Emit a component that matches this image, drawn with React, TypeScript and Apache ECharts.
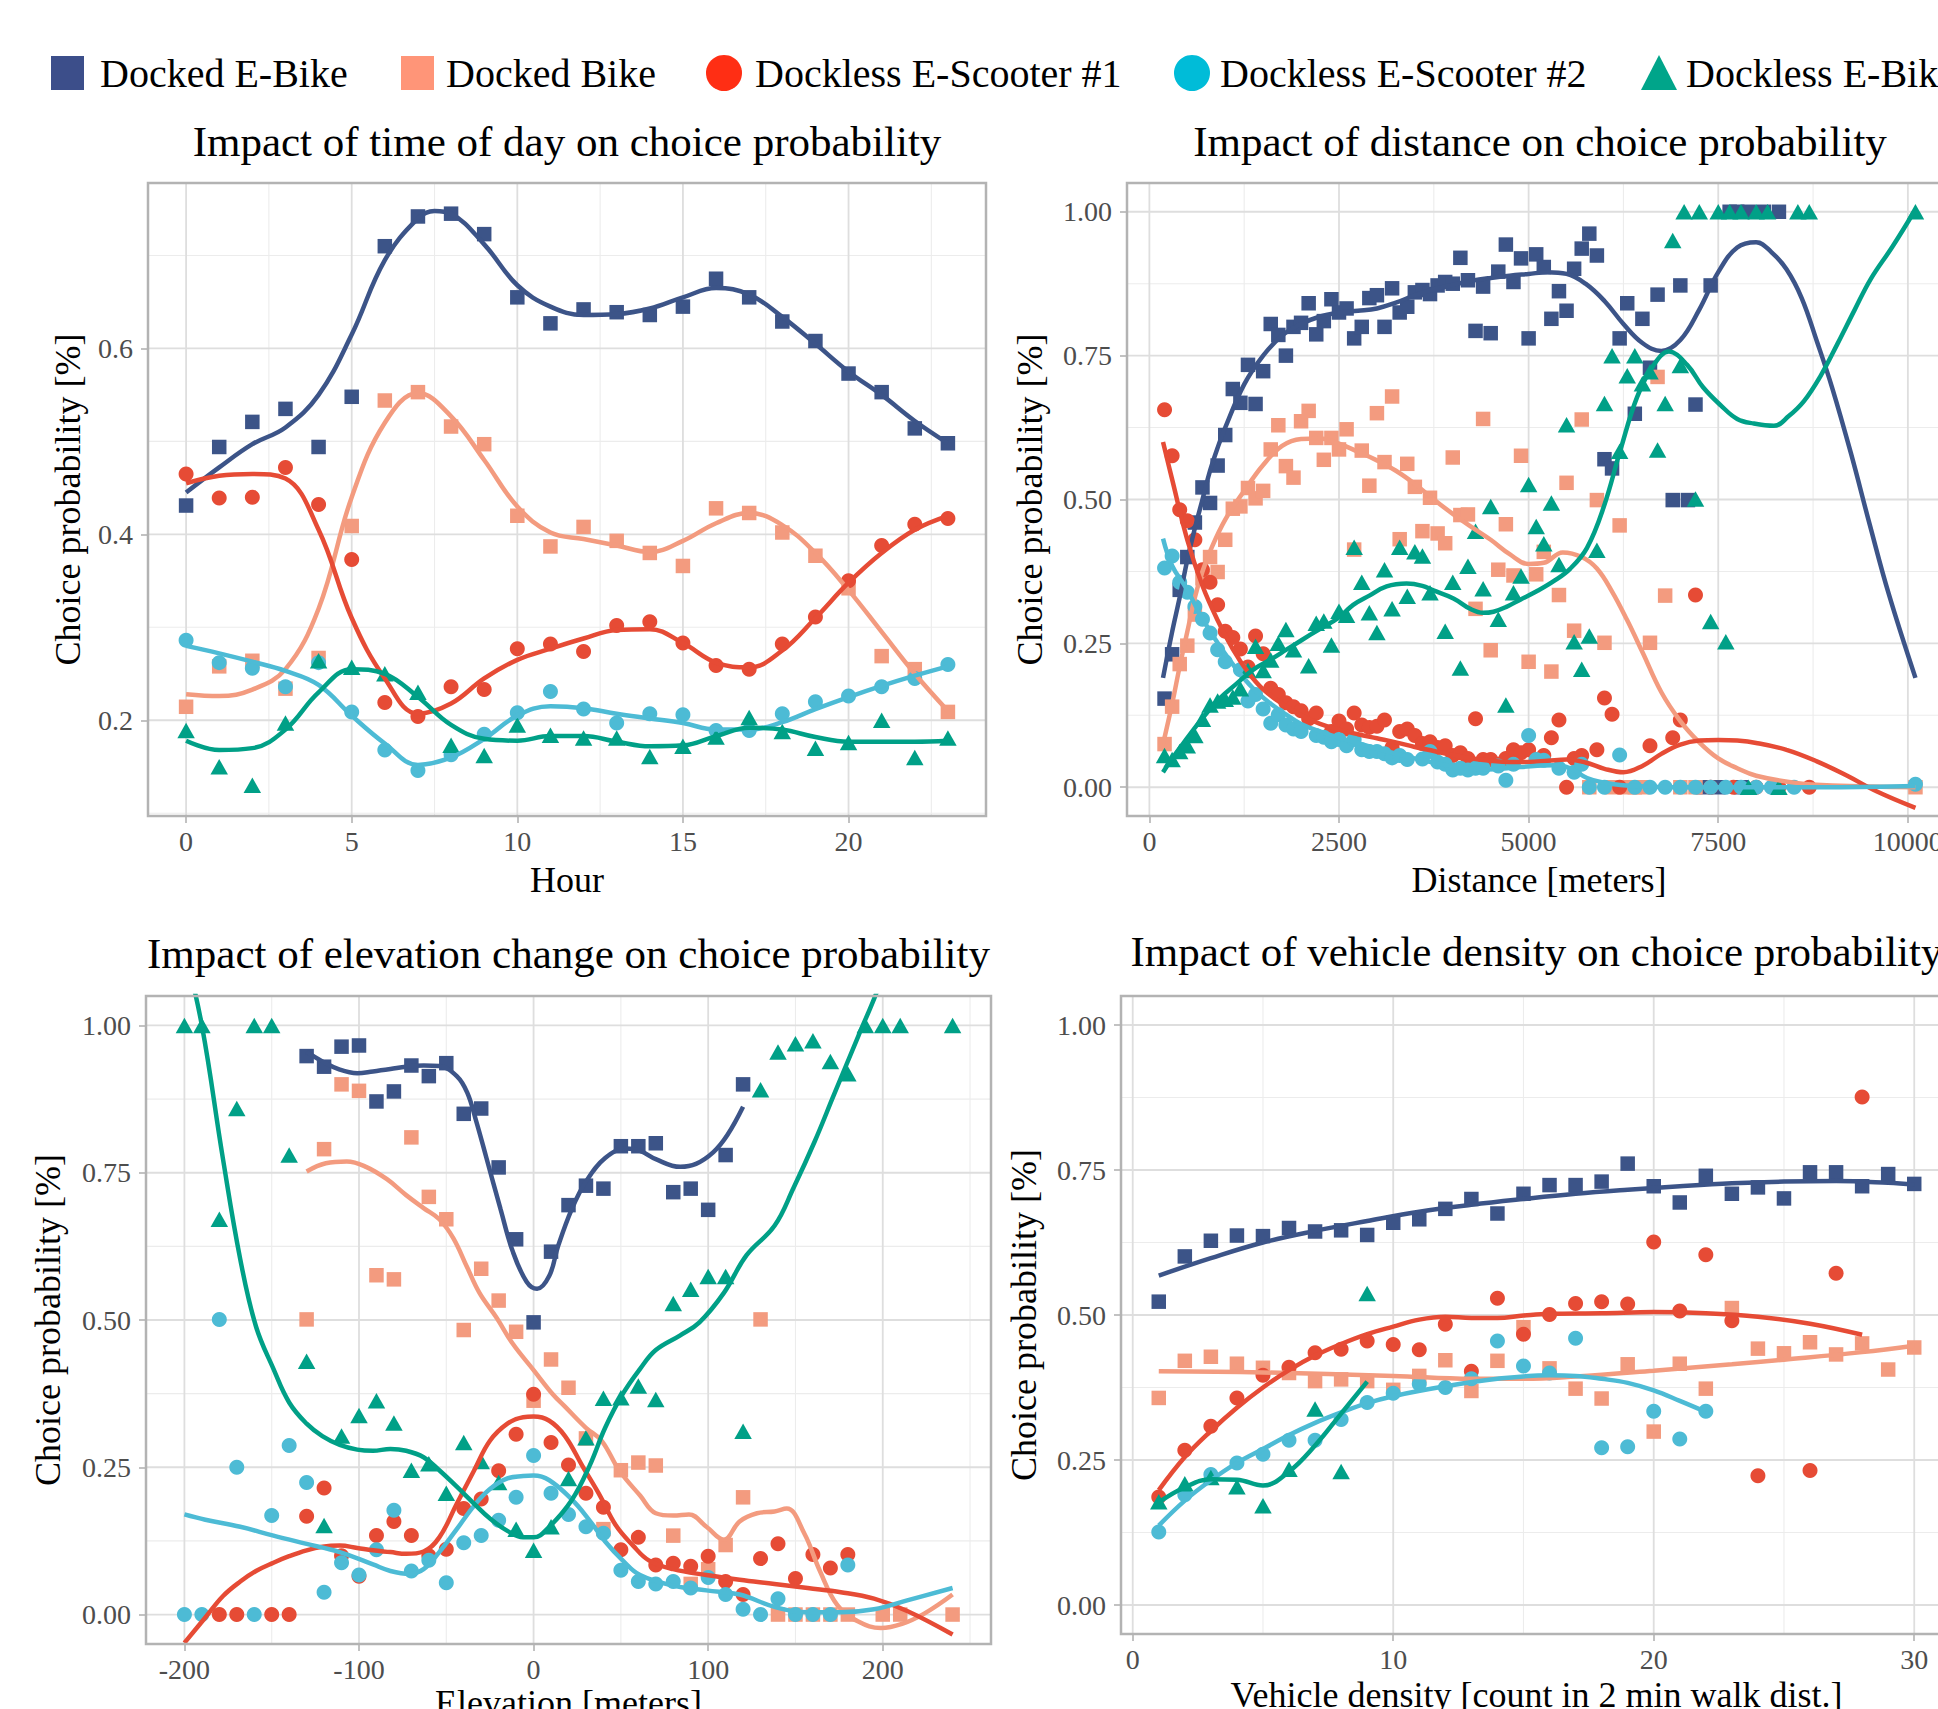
import React, { useEffect, useRef } from "react";
import * as echarts from "echarts";

// ---------- series identity ----------
const GROUPS = ["Docked E-Bike", "Docked Bike", "Dockless E-Scooter #1", "Dockless E-Scooter #2", "Dockless E-Bike"];
const COLORS = ["#3C5488", "#F39B7F", "#E64B35", "#4DBBD5", "#00A087"];
const LEGEND_COLORS = ["#3C4E8A", "#FF9578", "#FF2E14", "#00BCD8", "#00A58A"];

// ---------- panel 1 : hour ----------
const P1_HOURS = [0, 1, 2, 3, 4, 5, 6, 7, 8, 9, 10, 11, 12, 13, 14, 15, 16, 17, 18, 19, 20, 21, 22, 23];
const P1_NAVY = [0.431, 0.494, 0.521, 0.535, 0.494, 0.548, 0.71, 0.742, 0.745, 0.723, 0.655, 0.627, 0.642, 0.639, 0.636, 0.645, 0.675, 0.655, 0.629, 0.608, 0.573, 0.553, 0.514, 0.498];
const P1_SALMON = [0.2145, 0.258, 0.264, 0.234, 0.267, 0.409, 0.544, 0.553, 0.516, 0.497, 0.42, 0.387, 0.408, 0.393, 0.38, 0.366, 0.428, 0.423, 0.402, 0.377, 0.342, 0.269, 0.255, 0.209];
const P1_RED = [0.465, 0.439, 0.44, 0.472, 0.432, 0.373, 0.219, 0.204, 0.236, 0.233, 0.277, 0.282, 0.274, 0.302, 0.306, 0.283, 0.259, 0.255, 0.282, 0.311, 0.35, 0.388, 0.411, 0.417];
const P1_CYAN = [0.286, 0.262, 0.256, 0.236, 0.262, 0.209, 0.168, 0.146, 0.163, 0.185, 0.208, 0.231, 0.212, 0.197, 0.207, 0.206, 0.189, 0.189, 0.207, 0.22, 0.226, 0.236, 0.245, 0.26];
const P1_GREEN = [0.189, 0.15, 0.13, 0.197, 0.264, 0.257, 0.25, 0.23, 0.173, 0.162, 0.195, 0.184, 0.181, 0.181, 0.161, 0.172, 0.182, 0.203, 0.188, 0.17, 0.176, 0.2, 0.16, 0.181];

const P1_NAVY_FIT = [[0, 0.445], [1, 0.472], [2, 0.497], [3, 0.515], [4, 0.55], [5, 0.615], [6, 0.695], [7, 0.74], [7.5, 0.748], [8, 0.745], [9, 0.712], [10, 0.668], [11, 0.645], [12, 0.636], [13, 0.637], [14, 0.643], [15, 0.655], [16, 0.665], [17, 0.658], [18, 0.634], [19, 0.605], [20, 0.575], [21, 0.55], [22, 0.522], [23, 0.498]];
const P1_SALMON_FIT = [[0, 0.228], [1, 0.226], [2, 0.233], [3, 0.255], [4, 0.32], [5, 0.44], [6, 0.52], [7, 0.552], [8, 0.527], [9, 0.48], [10, 0.43], [11, 0.402], [12, 0.395], [13, 0.388], [14, 0.381], [15, 0.393], [16, 0.412], [17, 0.423], [18, 0.41], [19, 0.38], [20, 0.34], [21, 0.295], [22, 0.25], [23, 0.21]];
const P1_RED_FIT = [[0, 0.455], [1, 0.463], [2, 0.465], [3, 0.46], [4, 0.405], [5, 0.31], [6, 0.245], [7, 0.207], [8, 0.218], [9, 0.245], [10, 0.265], [11, 0.277], [12, 0.288], [13, 0.297], [14, 0.298], [15, 0.283], [16, 0.262], [17, 0.257], [18, 0.275], [19, 0.31], [20, 0.348], [21, 0.38], [22, 0.405], [23, 0.42]];
const P1_CYAN_FIT = [[0, 0.28], [1, 0.272], [2, 0.263], [3, 0.253], [4, 0.238], [5, 0.205], [6, 0.175], [7, 0.152], [8, 0.16], [9, 0.18], [10, 0.205], [11, 0.215], [12, 0.213], [13, 0.207], [14, 0.202], [15, 0.197], [16, 0.19], [17, 0.19], [18, 0.198], [19, 0.212], [20, 0.225], [21, 0.237], [22, 0.248], [23, 0.258]];
const P1_GREEN_FIT = [[0, 0.178], [1, 0.168], [2, 0.17], [3, 0.19], [4, 0.23], [5, 0.255], [6, 0.25], [7, 0.225], [8, 0.195], [9, 0.18], [10, 0.178], [11, 0.183], [12, 0.183], [13, 0.177], [14, 0.172], [15, 0.173], [16, 0.183], [17, 0.192], [18, 0.19], [19, 0.182], [20, 0.177], [21, 0.177], [22, 0.177], [23, 0.178]];

// ---------- panel 2 : distance ----------
const P2_NAVY = [[200, 0.154], [300, 0.231], [400, 0.343], [500, 0.4], [600, 0.46], [700, 0.521], [800, 0.494], [900, 0.559], [1000, 0.612], [1100, 0.692], [1200, 0.668], [1300, 0.734], [1400, 0.666], [1500, 0.723], [1600, 0.805], [1700, 0.786], [1800, 0.75], [1900, 0.8], [2000, 0.807], [2100, 0.841], [2200, 0.787], [2300, 0.81], [2400, 0.848], [2500, 0.825], [2600, 0.832], [2700, 0.78], [2800, 0.8], [2900, 0.85], [3000, 0.855], [3100, 0.8], [3200, 0.867], [3300, 0.825], [3400, 0.835], [3500, 0.86], [3600, 0.864], [3700, 0.857], [3800, 0.872], [3900, 0.878], [4000, 0.875], [4100, 0.92], [4200, 0.881], [4300, 0.793], [4400, 0.87], [4500, 0.789], [4600, 0.896], [4700, 0.943], [4800, 0.878], [4900, 0.919], [5000, 0.78], [5100, 0.926], [5200, 0.904], [5300, 0.814], [5400, 0.862], [5500, 0.828], [5600, 0.901], [5700, 0.936], [5800, 0.962], [5900, 0.924], [6000, 0.57], [6100, 0.554], [6200, 0.78], [6300, 0.841], [6400, 0.649], [6500, 0.814], [6600, 0.729], [6700, 0.856], [6900, 0.499], [7000, 0.872], [7100, 0.499], [7200, 0.665], [7300, 0], [7400, 0.872], [7500, 0], [7650, 1], [7750, 1], [7800, 0], [7900, 1], [8100, 1], [8300, 1]];
const P2_SALMON = [[200, 0.075], [300, 0.14], [400, 0.214], [500, 0.246], [600, 0.3], [700, 0.363], [800, 0.4], [900, 0.374], [1000, 0.43], [1100, 0.484], [1200, 0.488], [1300, 0.52], [1400, 0.502], [1500, 0.515], [1600, 0.587], [1700, 0.629], [1800, 0.558], [1900, 0.538], [2000, 0.636], [2100, 0.654], [2200, 0.607], [2300, 0.569], [2400, 0.607], [2500, 0.587], [2600, 0.622], [2700, 0.413], [2800, 0.585], [2900, 0.524], [3000, 0.65], [3100, 0.565], [3200, 0.679], [3300, 0.431], [3400, 0.562], [3500, 0.522], [3600, 0.445], [3700, 0.503], [3800, 0.441], [3900, 0.424], [4000, 0.573], [4100, 0.473], [4200, 0.474], [4300, 0.31], [4400, 0.64], [4500, 0.238], [4600, 0.378], [4700, 0.457], [4800, 0.368], [4900, 0.576], [5000, 0.218], [5100, 0.37], [5200, 0.409], [5300, 0.201], [5400, 0.334], [5500, 0.529], [5600, 0.272], [5700, 0.639], [5800, 0], [5900, 0.499], [6000, 0.251], [6100, 0], [6200, 0.455], [6300, 0], [6400, 0], [6500, 0], [6600, 0.251], [6700, 0.713], [6800, 0.333], [7000, 0], [7200, 0], [10100, 0]];
const P2_RED = [[200, 0.656], [300, 0.576], [400, 0.482], [500, 0.463], [600, 0.43], [700, 0.378], [800, 0.356], [900, 0.317], [1000, 0.271], [1100, 0.26], [1200, 0.24], [1300, 0.209], [1400, 0.263], [1500, 0.232], [1600, 0.172], [1700, 0.161], [1800, 0.147], [1900, 0.14], [2000, 0.133], [2100, 0.119], [2200, 0.129], [2400, 0.097], [2500, 0.115], [2600, 0.101], [2700, 0.129], [2800, 0.108], [2900, 0.104], [3000, 0.106], [3100, 0.117], [3200, 0.069], [3300, 0.097], [3400, 0.101], [3500, 0.09], [3600, 0.076], [3700, 0.079], [3800, 0.069], [3900, 0.072], [4000, 0.055], [4100, 0.06], [4200, 0.05], [4300, 0.119], [4400, 0.048], [4500, 0.048], [4600, 0.04], [4700, 0.05], [4800, 0.065], [4900, 0.06], [5000, 0.065], [5100, 0.048], [5200, 0.055], [5300, 0.086], [5400, 0.117], [5500, 0], [5600, 0.05], [5700, 0.055], [5900, 0.065], [6000, 0.155], [6100, 0.127], [6200, 0], [6600, 0.072], [6900, 0.086], [7000, 0.117], [7200, 0.334], [7400, 0], [7700, 0], [8000, 0], [8300, 0], [8700, 0]];
const P2_CYAN = [[200, 0.381], [300, 0.402], [400, 0.356], [500, 0.339], [600, 0.314], [700, 0.292], [800, 0.268], [900, 0.239], [1000, 0.218], [1200, 0.204], [1300, 0.15], [1400, 0.161], [1500, 0.136], [1600, 0.111], [1700, 0.126], [1800, 0.108], [1900, 0.101], [2000, 0.097], [2200, 0.09], [2300, 0.087], [2400, 0.079], [2500, 0.083], [2600, 0.072], [2700, 0.083], [2800, 0.065], [2900, 0.062], [3000, 0.062], [3100, 0.058], [3200, 0.051], [3300, 0.055], [3400, 0.048], [3600, 0.049], [3700, 0.062], [3800, 0.044], [3900, 0.04], [4000, 0.03], [4100, 0.033], [4200, 0.03], [4300, 0.033], [4400, 0.033], [4600, 0.037], [4700, 0.012], [4800, 0.04], [5000, 0.09], [5100, 0.048], [5200, 0.047], [5400, 0.033], [5600, 0.026], [5700, 0.04], [5800, 0], [6000, 0], [6200, 0.056], [6400, 0], [6600, 0], [6800, 0], [7000, 0], [7200, 0], [7400, 0], [7600, 0], [7800, 0], [8000, 0], [8200, 0], [8500, 0], [10100, 0.005]];
const P2_GREEN = [[200, 0.055], [300, 0.048], [400, 0.062], [500, 0.072], [600, 0.09], [700, 0.118], [800, 0.143], [900, 0.15], [1000, 0.153], [1100, 0.157], [1200, 0.171], [1300, 0.203], [1400, 0.245], [1500, 0.203], [1600, 0.221], [1700, 0.25], [1800, 0.274], [1900, 0.239], [2100, 0.211], [2200, 0.285], [2300, 0.289], [2400, 0.247], [2500, 0.306], [2600, 0.299], [2700, 0.417], [2800, 0.356], [2900, 0.303], [3000, 0.269], [3100, 0.378], [3200, 0.31], [3300, 0.417], [3400, 0.332], [3500, 0.409], [3600, 0.402], [3700, 0.338], [3900, 0.271], [4000, 0.356], [4100, 0.207], [4200, 0.384], [4300, 0.445], [4400, 0.345], [4500, 0.488], [4600, 0.292], [4700, 0.143], [4800, 0.338], [4900, 0.367], [5000, 0.526], [5100, 0.453], [5200, 0.423], [5300, 0.494], [5400, 0.387], [5500, 0.63], [5600, 0.253], [5700, 0.205], [5800, 0.263], [5900, 0.412], [6000, 0.667], [6100, 0.75], [6200, 0.584], [6300, 0.715], [6400, 0.75], [6500, 0.701], [6600, 0.722], [6700, 0.586], [6800, 0.667], [6900, 0.95], [7000, 0.733], [7050, 1], [7200, 0.501], [7250, 1], [7400, 0.288], [7500, 1], [7600, 0.253], [7650, 1], [7800, 1], [7900, 0], [8000, 1], [8150, 1], [8300, 0], [8550, 1], [8700, 1], [10100, 1]];

const P2_NAVY_FIT = [[180, 0.19], [300, 0.27], [400, 0.33], [500, 0.395], [600, 0.45], [700, 0.5], [800, 0.55], [900, 0.59], [1000, 0.625], [1250, 0.7], [1500, 0.75], [1750, 0.785], [2000, 0.805], [2250, 0.818], [2500, 0.825], [2750, 0.828], [3000, 0.832], [3250, 0.842], [3500, 0.855], [3750, 0.865], [4000, 0.873], [4250, 0.88], [4500, 0.885], [4750, 0.889], [5000, 0.892], [5250, 0.895], [5500, 0.892], [5750, 0.875], [6000, 0.845], [6250, 0.805], [6500, 0.772], [6750, 0.758], [7000, 0.777], [7250, 0.83], [7500, 0.895], [7750, 0.938], [8000, 0.947], [8200, 0.93], [8400, 0.9], [8600, 0.85], [8800, 0.775], [9000, 0.695], [9250, 0.58], [9500, 0.455], [9750, 0.335], [10100, 0.19]];
const P2_SALMON_FIT = [[180, 0.075], [300, 0.145], [400, 0.21], [500, 0.27], [600, 0.33], [700, 0.375], [800, 0.41], [1000, 0.465], [1250, 0.515], [1500, 0.56], [1750, 0.593], [2000, 0.605], [2250, 0.606], [2500, 0.597], [2750, 0.583], [3000, 0.568], [3250, 0.55], [3500, 0.527], [3750, 0.5], [4000, 0.475], [4250, 0.452], [4500, 0.43], [4750, 0.405], [5000, 0.388], [5200, 0.39], [5450, 0.408], [5700, 0.4], [5900, 0.38], [6100, 0.34], [6300, 0.29], [6500, 0.235], [6750, 0.165], [7000, 0.115], [7250, 0.078], [7500, 0.05], [7750, 0.033], [8000, 0.02], [8500, 0.008], [9000, 0.003], [10100, 0]];
const P2_RED_FIT = [[180, 0.6], [300, 0.535], [500, 0.43], [700, 0.35], [900, 0.29], [1100, 0.24], [1300, 0.2], [1500, 0.17], [1750, 0.145], [2000, 0.125], [2250, 0.11], [2500, 0.1], [2750, 0.092], [3000, 0.085], [3250, 0.078], [3500, 0.07], [3750, 0.063], [4000, 0.056], [4250, 0.05], [4500, 0.046], [4750, 0.044], [5000, 0.044], [5250, 0.046], [5500, 0.048], [5750, 0.043], [6000, 0.032], [6250, 0.026], [6500, 0.037], [6750, 0.058], [7000, 0.074], [7250, 0.081], [7500, 0.082], [7750, 0.081], [8000, 0.077], [8400, 0.065], [8800, 0.045], [9200, 0.02], [9600, -0.008], [10100, -0.036]];
const P2_CYAN_FIT = [[180, 0.432], [300, 0.385], [485, 0.346], [700, 0.293], [925, 0.246], [1150, 0.205], [1366, 0.172], [1600, 0.145], [1806, 0.126], [2000, 0.11], [2247, 0.097], [2500, 0.086], [2687, 0.079], [3000, 0.067], [3250, 0.058], [3568, 0.048], [4009, 0.036], [4449, 0.031], [4890, 0.035], [5330, 0.038], [5550, 0.033], [5770, 0.016], [6000, 0.008], [6210, 0.004], [6600, 0.001], [7000, 0], [8000, 0], [9000, 0], [10100, 0.002]];
const P2_GREEN_FIT = [[180, 0.026], [300, 0.05], [485, 0.083], [700, 0.12], [925, 0.154], [1150, 0.18], [1366, 0.204], [1600, 0.222], [1806, 0.239], [2000, 0.255], [2247, 0.275], [2500, 0.295], [2687, 0.317], [2900, 0.333], [3128, 0.349], [3392, 0.354], [3600, 0.35], [3744, 0.342], [4009, 0.328], [4229, 0.31], [4400, 0.303], [4537, 0.305], [4700, 0.313], [4890, 0.326], [5100, 0.34], [5330, 0.358], [5550, 0.38], [5770, 0.416], [5990, 0.487], [6210, 0.586], [6430, 0.678], [6650, 0.734], [6850, 0.757], [7090, 0.734], [7300, 0.695], [7530, 0.664], [7750, 0.64], [7970, 0.632], [8234, 0.628], [8430, 0.645], [8630, 0.671], [8850, 0.715], [9070, 0.77], [9300, 0.83], [9510, 0.883], [9800, 0.94], [10082, 1.0]];

// ---------- panel 3 : elevation ----------
const P3_NAVY = [[-130, 0.948], [-120, 0.93], [-110, 0.964], [-100, 0.966], [-90, 0.871], [-80, 0.888], [-70, 0.932], [-60, 0.914], [-50, 0.936], [-40, 0.85], [-30, 0.859], [-20, 0.759], [-10, 0.637], [0, 0.496], [10, 0.616], [20, 0.695], [30, 0.728], [40, 0.723], [50, 0.795], [60, 0.795], [70, 0.8], [80, 0.717], [90, 0.723], [100, 0.687], [110, 0.78], [120, 0.9]];
const P3_SALMON = [[-130, 0.501], [-120, 0.79], [-110, 0.9], [-100, 0.889], [-90, 0.576], [-80, 0.569], [-70, 0.81], [-60, 0.709], [-50, 0.671], [-40, 0.483], [-30, 0.587], [-20, 0.533], [-10, 0.48], [0, 0.363], [10, 0.433], [20, 0.385], [30, 0.299], [40, 0.145], [50, 0.245], [60, 0.258], [70, 0.253], [80, 0.134], [90, 0.052], [100, 0.077], [110, 0.118], [120, 0.199], [130, 0.501], [140, 0], [150, 0], [160, 0], [170, 0], [180, 0], [200, 0], [210, 0], [240, 0]];
const P3_RED = [[-180, 0], [-170, 0], [-150, 0], [-140, 0], [-130, 0.167], [-120, 0.215], [-110, 0.1], [-100, 0.065], [-90, 0.134], [-80, 0.158], [-70, 0.134], [-60, 0.1], [-50, 0.111], [-40, 0.18], [-30, 0.196], [-20, 0.244], [-10, 0.306], [0, 0.374], [10, 0.292], [20, 0.254], [30, 0.206], [40, 0.182], [50, 0.11], [60, 0.131], [70, 0.084], [80, 0.087], [90, 0.082], [100, 0.099], [110, 0.056], [120, 0.034], [130, 0.095], [140, 0.12], [150, 0.061], [160, 0.102], [170, 0.079], [180, 0.102]];
const P3_CYAN = [[-200, 0], [-190, 0], [-180, 0.501], [-170, 0.25], [-160, 0], [-150, 0.168], [-140, 0.287], [-130, 0.224], [-120, 0.038], [-110, 0.088], [-100, 0.067], [-90, 0.11], [-80, 0.177], [-70, 0.074], [-60, 0.092], [-50, 0.054], [-40, 0.122], [-30, 0.134], [-20, 0.16], [-10, 0.199], [0, 0.27], [10, 0.206], [20, 0.17], [30, 0.149], [40, 0.138], [50, 0.075], [60, 0.056], [70, 0.052], [80, 0.056], [90, 0.045], [100, 0.063], [110, 0.034], [120, 0.009], [130, 0], [140, 0.027], [150, 0], [160, 0], [170, 0], [180, 0.084]];
const P3_GREEN = [[-200, 1], [-190, 1], [-180, 0.671], [-170, 0.859], [-160, 1], [-150, 1], [-140, 0.78], [-130, 0.43], [-120, 0.151], [-110, 0.303], [-100, 0.338], [-90, 0.363], [-80, 0.325], [-70, 0.245], [-60, 0.256], [-50, 0.206], [-40, 0.292], [-30, 0.26], [-20, 0.224], [-10, 0.145], [0, 0.109], [10, 0.149], [20, 0.231], [30, 0.3], [40, 0.367], [50, 0.368], [60, 0.388], [70, 0.365], [80, 0.528], [90, 0.552], [100, 0.574], [110, 0.574], [120, 0.311], [130, 0.891], [140, 0.955], [150, 0.969], [160, 0.974], [170, 0.939], [180, 0.918], [190, 1], [200, 1], [210, 1], [240, 1]];

const P3_NAVY_FIT = [[-130, 0.955], [-121, 0.939], [-111, 0.925], [-101, 0.919], [-92, 0.922], [-82, 0.926], [-73, 0.93], [-63, 0.932], [-54, 0.931], [-44, 0.914], [-38, 0.886], [-33, 0.839], [-27, 0.775], [-19, 0.689], [-12, 0.617], [-4, 0.565], [2, 0.553], [9, 0.575], [14, 0.625], [22, 0.689], [30, 0.735], [41, 0.775], [53, 0.791], [61, 0.787], [70, 0.773], [84, 0.76], [93, 0.765], [103, 0.785], [111, 0.814], [120, 0.862]];
const P3_SALMON_FIT = [[-130, 0.752], [-119, 0.766], [-107, 0.769], [-96, 0.76], [-84, 0.739], [-73, 0.712], [-63, 0.69], [-54, 0.671], [-46, 0.639], [-38, 0.589], [-31, 0.546], [-21, 0.503], [-12, 0.46], [0, 0.415], [11, 0.374], [18, 0.353], [30, 0.317], [39, 0.295], [49, 0.245], [61, 0.202], [70, 0.172], [80, 0.168], [89, 0.17], [99, 0.149], [109, 0.127], [118, 0.158], [128, 0.172], [138, 0.175], [145, 0.18], [155, 0.138], [164, 0.074], [174, 0.016], [186, -0.012], [199, -0.023], [211, -0.016], [224, 0.002], [240, 0.034]];
const P3_RED_FIT = [[-200, -0.048], [-188, -0.005], [-178, 0.031], [-168, 0.056], [-159, 0.074], [-149, 0.088], [-140, 0.099], [-130, 0.109], [-121, 0.115], [-111, 0.117], [-101, 0.113], [-92, 0.109], [-82, 0.106], [-73, 0.103], [-63, 0.107], [-54, 0.131], [-44, 0.188], [-34, 0.245], [-25, 0.295], [-15, 0.324], [-6, 0.335], [0, 0.336], [9, 0.329], [18, 0.303], [28, 0.252], [38, 0.202], [47, 0.152], [57, 0.117], [66, 0.092], [80, 0.077], [99, 0.067], [118, 0.059], [138, 0.052], [157, 0.045], [176, 0.038], [195, 0.027], [214, 0.006], [240, -0.034]];
const P3_CYAN_FIT = [[-200, 0.17], [-188, 0.161], [-168, 0.149], [-149, 0.134], [-130, 0.12], [-111, 0.106], [-92, 0.085], [-82, 0.074], [-71, 0.069], [-63, 0.077], [-54, 0.106], [-44, 0.145], [-34, 0.185], [-25, 0.213], [-15, 0.231], [-6, 0.235], [0, 0.236], [9, 0.228], [22, 0.195], [32, 0.16], [41, 0.124], [51, 0.092], [61, 0.067], [80, 0.049], [99, 0.041], [118, 0.034], [138, 0.013], [157, 0.004], [176, 0.004], [195, 0.009], [214, 0.024], [240, 0.045]];
const P3_GREEN_FIT = [[-200, 1.13], [-190, 1.0], [-178, 0.775], [-168, 0.603], [-159, 0.489], [-149, 0.417], [-140, 0.36], [-130, 0.324], [-121, 0.303], [-111, 0.288], [-101, 0.28], [-92, 0.278], [-82, 0.281], [-73, 0.278], [-63, 0.267], [-54, 0.245], [-44, 0.217], [-34, 0.188], [-25, 0.163], [-15, 0.142], [-6, 0.131], [0, 0.131], [9, 0.149], [22, 0.195], [32, 0.252], [41, 0.317], [51, 0.374], [61, 0.417], [70, 0.449], [84, 0.474], [95, 0.496], [109, 0.546], [122, 0.61], [138, 0.66], [149, 0.725], [161, 0.803], [172, 0.882], [186, 0.982], [197, 1.06], [205, 1.13]];

// ---------- panel 4 : vehicle density ----------
const P4_COUNTS = [1, 2, 3, 4, 5, 6, 7, 8, 9, 10, 11, 12, 13, 14, 15, 16, 17, 18, 19, 20, 21, 22, 23, 24, 25, 26, 27, 28, 29, 30];
const P4_NAVY = [0.523, 0.601, 0.628, 0.637, 0.636, 0.65, 0.644, 0.646, 0.638, 0.659, 0.665, 0.683, 0.7, 0.675, 0.709, 0.724, 0.724, 0.73, 0.761, 0.722, 0.694, 0.74, 0.709, 0.72, 0.701, 0.746, 0.746, 0.722, 0.743, 0.726];
const P4_SALMON = [0.357, 0.421, 0.428, 0.416, 0.409, 0.4, 0.386, 0.389, 0.386, 0.371, 0.395, 0.422, 0.369, 0.421, 0.479, 0.408, 0.373, 0.356, 0.415, 0.299, 0.416, 0.373, 0.512, 0.442, 0.434, 0.453, 0.432, 0.451, 0.406, 0.444];
const P4_RED = [[1, 0.186], [2, 0.267], [3, 0.308], [4, 0.357], [5, 0.396], [6, 0.41], [7, 0.435], [8, 0.441], [9, 0.455], [10, 0.449], [11, 0.44], [12, 0.484], [13, 0.403], [14, 0.529], [15, 0.467], [16, 0.501], [17, 0.52], [18, 0.523], [19, 0.519], [20, 0.626], [21, 0.507], [22, 0.604], [23, 0.49], [24, 0.223], [26, 0.232], [27, 0.572], [28, 0.876]];
const P4_CYAN = [[1, 0.126], [2, 0.19], [3, 0.225], [4, 0.245], [5, 0.26], [6, 0.284], [7, 0.284], [8, 0.32], [9, 0.349], [10, 0.365], [11, 0.381], [12, 0.375], [13, 0.39], [14, 0.455], [15, 0.412], [16, 0.4], [17, 0.46], [18, 0.271], [19, 0.273], [20, 0.334], [21, 0.286], [22, 0.334]];
const P4_GREEN = [[1, 0.178], [2, 0.209], [3, 0.22], [4, 0.204], [5, 0.171], [6, 0.234], [7, 0.338], [8, 0.23], [9, 0.537]];

const P4_NAVY_FIT = [[1, 0.568], [3, 0.598], [5, 0.625], [7, 0.645], [9, 0.662], [11, 0.678], [13, 0.69], [15, 0.7], [17, 0.709], [19, 0.716], [21, 0.722], [23, 0.727], [25, 0.73], [27, 0.731], [29, 0.728], [30, 0.725]];
const P4_SALMON_FIT = [[1, 0.403], [5, 0.401], [10, 0.395], [13, 0.39], [15, 0.39], [17, 0.394], [20, 0.404], [23, 0.415], [25, 0.423], [28, 0.436], [30, 0.447]];
const P4_RED_FIT = [[1, 0.198], [2, 0.255], [3, 0.3], [4, 0.34], [5, 0.375], [6, 0.405], [7, 0.43], [8, 0.45], [9, 0.467], [10, 0.48], [11, 0.492], [12, 0.497], [13, 0.495], [14, 0.495], [15, 0.499], [16, 0.502], [18, 0.503], [20, 0.505], [22, 0.503], [24, 0.497], [26, 0.485], [28, 0.466]];
const P4_CYAN_FIT = [[1, 0.137], [2, 0.18], [3, 0.215], [4, 0.245], [5, 0.269], [6, 0.293], [7, 0.314], [8, 0.332], [9, 0.348], [10, 0.36], [12, 0.377], [14, 0.39], [16, 0.396], [17, 0.395], [18, 0.39], [19, 0.383], [20, 0.37], [21, 0.352], [22, 0.333]];
const P4_GREEN_FIT = [[1, 0.177], [2, 0.203], [3, 0.217], [4, 0.216], [5, 0.206], [6, 0.23], [7, 0.275], [8, 0.33], [9, 0.385]];

// ---------- axis breaks ----------
const P1_X_MAJOR = [0, 5, 10, 15, 20];
const P1_X_MINOR = [2.5, 7.5, 12.5, 17.5, 22.5];
const P1_Y_MAJOR = [0.2, 0.4, 0.6];
const P1_Y_MINOR = [0.1, 0.3, 0.5, 0.7];
const P2_X_MAJOR = [0, 2500, 5000, 7500, 10000];
const P2_X_MINOR = [1250, 3750, 6250, 8750];
const P3_X_MAJOR = [-200, -100, 0, 100, 200];
const P3_X_MINOR = [-150, -50, 50, 150, 250];
const P4_X_MAJOR = [0, 10, 20, 30];
const P4_X_MINOR = [5, 15, 25];
const PROB_Y_MAJOR = [0, 0.25, 0.5, 0.75, 1];
const PROB_Y_MINOR = [0.125, 0.375, 0.625, 0.875];

const TITLES = [
  "Impact of time of day on choice probability",
  "Impact of distance on choice probability",
  "Impact of elevation change on choice probability",
  "Impact of vehicle density on choice probability",
];
const X_NAMES = ["Hour", "Distance [meters]", "Elevation [meters]", "Vehicle density [count in 2 min walk dist.]"];
const Y_NAME = "Choice probability [%]";

const FONT = '"Liberation Serif", "Times New Roman", serif';

const zip = (xs: number[], ys: number[]) => xs.map((x, i) => [x, ys[i]]);

const PANELS = [
  {
    grid: { left: 148, top: 183, width: 838, height: 633 },
    x: [-1.15, 24.15], y: [0.097, 0.778],
    xMajor: P1_X_MAJOR, xMinor: P1_X_MINOR, yMajor: P1_Y_MAJOR, yMinor: P1_Y_MINOR, yDigits: 1,
    points: [zip(P1_HOURS, P1_NAVY), zip(P1_HOURS, P1_SALMON), zip(P1_HOURS, P1_RED), zip(P1_HOURS, P1_CYAN), zip(P1_HOURS, P1_GREEN)],
    fits: [P1_NAVY_FIT, P1_SALMON_FIT, P1_RED_FIT, P1_CYAN_FIT, P1_GREEN_FIT],
    title: { x: 567, y: 141.5 }, xName: { x: 567, y: 880 }, yName: { x: 68, y: 499.5 },
  },
  {
    grid: { left: 1127, top: 183, width: 826, height: 633 },
    x: [-295, 10595], y: [-0.05, 1.05],
    xMajor: P2_X_MAJOR, xMinor: P2_X_MINOR, yMajor: PROB_Y_MAJOR, yMinor: PROB_Y_MINOR, yDigits: 2,
    points: [P2_NAVY, P2_SALMON, P2_RED, P2_CYAN, P2_GREEN],
    fits: [P2_NAVY_FIT, P2_SALMON_FIT, P2_RED_FIT, P2_CYAN_FIT, P2_GREEN_FIT],
    title: { x: 1540, y: 141.5 }, xName: { x: 1539, y: 880 }, yName: { x: 1030, y: 499.5 },
  },
  {
    grid: { left: 146, top: 996, width: 845, height: 648 },
    x: [-222, 262], y: [-0.05, 1.05],
    xMajor: P3_X_MAJOR, xMinor: P3_X_MINOR, yMajor: PROB_Y_MAJOR, yMinor: PROB_Y_MINOR, yDigits: 2,
    points: [P3_NAVY, P3_SALMON, P3_RED, P3_CYAN, P3_GREEN],
    fits: [P3_NAVY_FIT, P3_SALMON_FIT, P3_RED_FIT, P3_CYAN_FIT, P3_GREEN_FIT],
    title: { x: 568.5, y: 953 }, xName: { x: 568.5, y: 1703 }, yName: { x: 48, y: 1320 },
  },
  {
    grid: { left: 1121, top: 996, width: 831, height: 638 },
    x: [-0.45, 31.45], y: [-0.05, 1.05],
    xMajor: P4_X_MAJOR, xMinor: P4_X_MINOR, yMajor: PROB_Y_MAJOR, yMinor: PROB_Y_MINOR, yDigits: 2,
    points: [zip(P4_COUNTS, P4_NAVY), zip(P4_COUNTS, P4_SALMON), P4_RED, P4_CYAN, P4_GREEN],
    fits: [P4_NAVY_FIT, P4_SALMON_FIT, P4_RED_FIT, P4_CYAN_FIT, P4_GREEN_FIT],
    title: { x: 1536.5, y: 951 }, xName: { x: 1536.5, y: 1695 }, yName: { x: 1024, y: 1315 },
  },
];

const SYMBOLS = ["rect", "rect", "circle", "circle", "triangle"];
const SYMBOL_SIZES: any[] = [14.5, 14.5, 15, 15, [17.5, 15.5]];

function buildOption() {
  const grid: any[] = [];
  const xAxis: any[] = [];
  const yAxis: any[] = [];
  const series: any[] = [];
  const graphic: any[] = [];

  PANELS.forEach((p, i) => {
    grid.push({ ...p.grid, show: true, borderColor: "#B3B3B3", borderWidth: 2.5, backgroundColor: "transparent", z: 6 });
    const common = {
      gridIndex: i,
      type: "value",
      splitLine: { show: false },
      minorSplitLine: { show: false },
      axisLine: { show: false, onZero: false },
    };
    xAxis.push({
      ...common,
      min: p.x[0], max: p.x[1],
      axisTick: { show: true, length: 7, customValues: p.xMajor, lineStyle: { color: "#B3B3B3", width: 1.6 } },
      axisLabel: { customValues: p.xMajor, margin: 11, fontSize: 28, color: "#4D4D4D", fontFamily: FONT, formatter: (v: number) => String(v) },
    });
    yAxis.push({
      ...common,
      min: p.y[0], max: p.y[1],
      axisTick: { show: true, length: 7, customValues: p.yMajor, lineStyle: { color: "#B3B3B3", width: 1.6 } },
      axisLabel: { customValues: p.yMajor, margin: 15, fontSize: 28, color: "#4D4D4D", fontFamily: FONT, formatter: (v: number) => v.toFixed(p.yDigits) },
    });

    // grid lines: [dim, value, major, otherLo, otherHi]
    const gl: number[][] = [];
    p.xMinor.forEach((v) => gl.push([0, v, 0, p.y[0], p.y[1]]));
    p.yMinor.forEach((v) => gl.push([1, v, 0, p.x[0], p.x[1]]));
    p.xMajor.forEach((v) => gl.push([0, v, 1, p.y[0], p.y[1]]));
    p.yMajor.forEach((v) => gl.push([1, v, 1, p.x[0], p.x[1]]));
    series.push({
      type: "custom",
      xAxisIndex: i,
      yAxisIndex: i,
      silent: true,
      z: 0,
      encode: { x: 3, y: 3 },
      data: gl,
      renderItem: (_params: any, api: any) => {
        const dim = api.value(0);
        const v = api.value(1);
        const major = api.value(2);
        const lo = api.value(3);
        const hi = api.value(4);
        const a = dim === 0 ? api.coord([v, lo]) : api.coord([lo, v]);
        const b = dim === 0 ? api.coord([v, hi]) : api.coord([hi, v]);
        return {
          type: "line",
          shape: { x1: a[0], y1: a[1], x2: b[0], y2: b[1] },
          style: { stroke: major ? "#DEDEDE" : "#ECECEC", lineWidth: major ? 1.8 : 1.1 },
        };
      },
    });

    GROUPS.forEach((g, k) => {
      series.push({
        name: g,
        type: "scatter",
        xAxisIndex: i,
        yAxisIndex: i,
        data: p.points[k],
        symbol: SYMBOLS[k],
        symbolSize: SYMBOL_SIZES[k],
        itemStyle: { color: COLORS[k], opacity: 1 },
        silent: true,
        z: 2,
      });
    });
    GROUPS.forEach((g, k) => {
      series.push({
        name: g,
        type: "line",
        xAxisIndex: i,
        yAxisIndex: i,
        data: p.fits[k],
        showSymbol: false,
        symbol: "none",
        smooth: 0.4,
        clip: true,
        lineStyle: { color: COLORS[k], width: 4.5 },
        silent: true,
        z: 3,
      });
    });

    graphic.push({
      type: "text", x: p.title.x, y: p.title.y, silent: true,
      style: { text: TITLES[i], fontSize: 43, fontFamily: FONT, fill: "#000", align: "center", verticalAlign: "middle" },
    });
    graphic.push({
      type: "text", x: p.xName.x, y: p.xName.y, silent: true,
      style: { text: X_NAMES[i], fontSize: 36, fontFamily: FONT, fill: "#000", align: "center", verticalAlign: "middle" },
    });
    graphic.push({
      type: "text", x: p.yName.x, y: p.yName.y, rotation: Math.PI / 2, silent: true,
      style: { text: Y_NAME, fontSize: 36, fontFamily: FONT, fill: "#000", align: "center", verticalAlign: "middle" },
    });
  });

  // legend (drawn manually to match the ggplot key layout)
  const LY = 73;
  const legendText = (x: number, t: string) => ({
    type: "text", x, y: LY, silent: true,
    style: { text: t, fontSize: 40, fontFamily: FONT, fill: "#000", align: "left", verticalAlign: "middle" },
  });
  graphic.push({ type: "rect", silent: true, shape: { x: 51, y: LY - 17, width: 33, height: 34 }, style: { fill: LEGEND_COLORS[0] } });
  graphic.push(legendText(100, GROUPS[0]));
  graphic.push({ type: "rect", silent: true, shape: { x: 401, y: LY - 17, width: 33, height: 34 }, style: { fill: LEGEND_COLORS[1] } });
  graphic.push(legendText(446, GROUPS[1]));
  graphic.push({ type: "circle", silent: true, shape: { cx: 724, cy: LY, r: 18 }, style: { fill: LEGEND_COLORS[2] } });
  graphic.push(legendText(755, GROUPS[2]));
  graphic.push({ type: "circle", silent: true, shape: { cx: 1192, cy: LY, r: 18 }, style: { fill: LEGEND_COLORS[3] } });
  graphic.push(legendText(1220, GROUPS[3]));
  graphic.push({ type: "polygon", silent: true, shape: { points: [[1641, LY + 17], [1677, LY + 17], [1659, LY - 18]] }, style: { fill: LEGEND_COLORS[4] } });
  graphic.push(legendText(1686, GROUPS[4]));

  return {
    animation: false,
    backgroundColor: "#ffffff",
    textStyle: { fontFamily: FONT },
    grid,
    xAxis,
    yAxis,
    series,
    graphic,
  };
}

export default function App() {
  const ref = useRef<HTMLDivElement | null>(null);
  useEffect(() => {
    if (!ref.current) return;
    const chart = echarts.init(ref.current, null, { renderer: "svg" });
    chart.setOption(buildOption() as any);
    return () => chart.dispose();
  }, []);
  // The drawing surface is wider than the page so that the right-hand panels run
  // past the page edge exactly as in the reference; the outer box clips it.
  return (
    <div style={{ position: "absolute", left: 0, top: 0, width: 1938, height: 1709, overflow: "hidden", background: "#fff" }}>
      <div ref={ref} style={{ width: 1990, height: 1709 }} />
    </div>
  );
}
